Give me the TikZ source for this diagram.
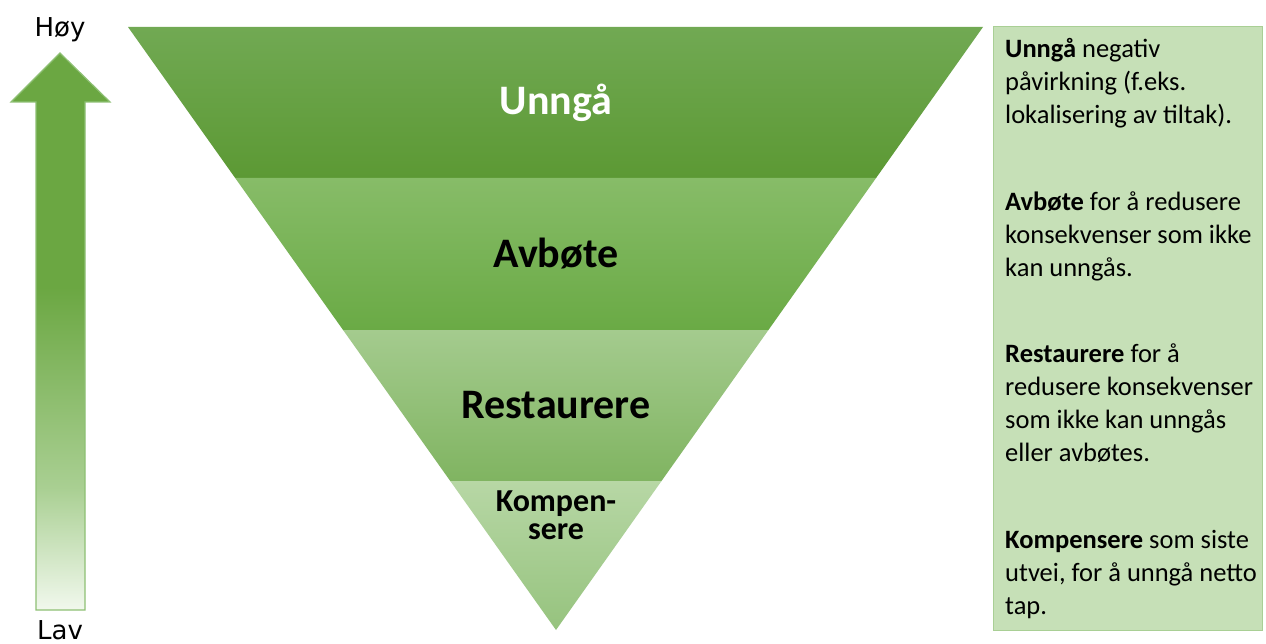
\documentclass[tikz,border=0pt]{standalone}
\usepackage{fontspec}
\setmainfont{Carlito}
\newfontfamily\scalefont{DejaVu Sans}
\usetikzlibrary{calc}
\definecolor{bandAt}{HTML}{71A953}
\definecolor{bandAb}{HTML}{5C9934}
\definecolor{bandBt}{HTML}{87BC68}
\definecolor{bandBb}{HTML}{6AAA45}
\definecolor{bandCt}{HTML}{A4CB8E}
\definecolor{bandCb}{HTML}{80B461}
\definecolor{bandDt}{HTML}{B7D7A5}
\definecolor{bandDb}{HTML}{96C37E}
\definecolor{boxfill}{HTML}{C6E0B7}
\definecolor{boxline}{HTML}{A9CF95}
\definecolor{arrdark}{HTML}{6BA742}
\definecolor{arrmid}{HTML}{A9CF92}
\definecolor{arrlight}{HTML}{F1F8ED}
\definecolor{arrline}{HTML}{8EC074}
\pgfdeclareverticalshading{arrowshade}{100bp}{color(0bp)=(arrlight); color(25bp)=(arrlight); color(36bp)=(arrmid); color(54bp)=(arrdark); color(100bp)=(arrdark)}
\tikzset{
  bandlabel/.style={font=\bfseries\fontsize{42}{42}\selectfont, text=black, inner sep=0},
  smalllabel/.style={font=\bfseries\fontsize{32}{32}\selectfont, text=black, inner sep=0, anchor=base},
  desc/.style={font=\fontsize{26.5}{33}\selectfont, align=left, anchor=north west, inner sep=0},
  scalelabel/.style={font=\scalefont\fontsize{26}{26}\selectfont, inner sep=0, anchor=base}
}
\begin{document}
\begin{tikzpicture}[x=1pt,y=-1pt]
\useasboundingbox (0,0) rectangle (1266,644);
\fill[white] (0,0) rectangle (1266,644);
% triangle corners
\coordinate (TL) at (128,27);
\coordinate (TR) at (983,27);
\coordinate (AP) at (556,630);
\coordinate (L1) at ($(TL)!0.2504!(AP)$);
\coordinate (R1) at ($(TR)!0.2504!(AP)$);
\coordinate (L2) at ($(TL)!0.5025!(AP)$);
\coordinate (R2) at ($(TR)!0.5025!(AP)$);
\coordinate (L3) at ($(TL)!0.7529!(AP)$);
\coordinate (R3) at ($(TR)!0.7529!(AP)$);
% bands
\shade[top color=bandAt, bottom color=bandAb] (TL) -- (TR) -- (R1) -- (L1) -- cycle;
\shade[top color=bandBt, bottom color=bandBb] (L1) -- (R1) -- (R2) -- (L2) -- cycle;
\shade[top color=bandCt, bottom color=bandCb] (L2) -- (R2) -- (R3) -- (L3) -- cycle;
\shade[top color=bandDt, bottom color=bandDb] (L3) -- (R3) -- (AP) -- cycle;
% band labels
\node[bandlabel, text=white] (unnga) at (556,103) {Unngå};
\node[bandlabel] (avbote) at (556,254) {Avbøte};
\node[bandlabel] (restaurere) at (556,405) {Restaurere};
\node[smalllabel] (kompen) at (556,511) {Kompen-};
\node[smalllabel] (sere) at (556,539) {sere};
% arrow
\path[shading=arrowshade, draw=arrline, line width=1.2pt]
  (36,610) -- (36,102) -- (11,102) -- (60,53) -- (110,102) -- (85,102) -- (85,610) -- cycle;
\node[scalelabel] (hoy) at (60,37) {Høy};
\node[scalelabel] (lav) at (60,639) {Lav};
% description box
\draw[fill=boxfill, draw=boxline, line width=1pt] (993,27) rectangle (1262,630);
\node[desc] (d1) at (1005,38) {\textbf{Unngå} negativ\\påvirkning (f.eks.\\lokalisering av tiltak).};
\node[desc] (d2) at (1005,192) {\textbf{Avbøte} for å redusere\\konsekvenser som ikke\\kan unngås.};
\node[desc] (d3) at (1005,344) {\textbf{Restaurere} for å\\redusere konsekvenser\\som ikke kan unngås\\eller avbøtes.};
\node[desc] (d4) at (1005,530) {\textbf{Kompensere} som siste\\utvei, for å unngå netto\\tap.};
\end{tikzpicture}
\end{document}
